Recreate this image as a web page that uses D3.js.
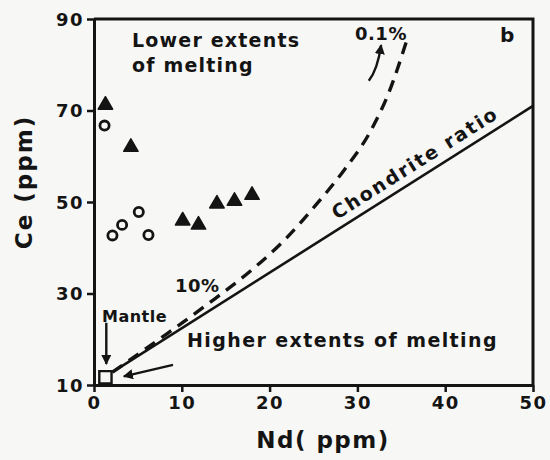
<!DOCTYPE html>
<html>
<head>
<meta charset="utf-8">
<script src="https://cdn.jsdelivr.net/npm/d3@7"></script>
<style>
  html, body { margin: 0; padding: 0; background: #f7f7f5; }
  svg { display: block; }
  text { font-family: "DejaVu Sans", sans-serif; font-weight: bold; fill: #141414; }
</style>
</head>
<body>
<div id="chart"></div>
<script>
// ---------- data ----------
const xTicks = [0, 10, 20, 30, 40, 50];
const yTicks = [10, 30, 50, 70, 90];

// Filled triangles (Nd, Ce)
const triNd = [1.3, 4.2, 10.1, 11.9, 14.0, 16.0, 18.0];
const triCe = [71.2, 62.0, 45.9, 45.0, 49.6, 50.2, 51.5];

// Open circles (Nd, Ce)
const circNd = [1.2, 5.1, 3.2, 2.1, 6.2];
const circCe = [66.7, 47.8, 45.0, 42.7, 42.8];

// Mantle source (open square)
const mantleNd = [1.3];
const mantleCe = [11.7];

// Chondrite ratio line
const chondNd = [2.1, 50];
const chondCe = [12.8, 71.0];

// Melting curve (10% -> 0.1%)
const meltNd = [2.1, 8.3, 13.8, 18.0, 21.5, 25.2, 28.5, 31.5, 33.6, 35.7];
const meltCe = [12.8, 21.2, 28.9, 35.2, 41.3, 49.2, 57.0, 65.5, 74.0, 85.8];

// ---------- layout ----------
const W = 550, H = 460;
const x = d3.scaleLinear().domain([0, 50]).range([94, 533]);
const y = d3.scaleLinear().domain([10, 90]).range([385, 19]);
const ink = "#141414";

const svg = d3.select("#chart").append("svg")
  .attr("width", W).attr("height", H);

svg.append("rect").attr("width", W).attr("height", H).attr("fill", "#f7f7f5");

svg.append("defs").append("marker")
  .attr("id", "ah").attr("viewBox", "0 0 10 10")
  .attr("refX", 9).attr("refY", 5)
  .attr("markerWidth", 4.2).attr("markerHeight", 4.2)
  .attr("markerUnits", "strokeWidth")
  .attr("orient", "auto")
  .append("path").attr("d", "M0,0 L10,5 L0,10 Z").attr("fill", ink);

// frame (top and right)
svg.append("path")
  .attr("d", `M${x(0)},${y(90)} H${x(50)} V${y(10)}`)
  .attr("fill", "none").attr("stroke", ink).attr("stroke-width", 3);

// axes
const gx = svg.append("g").attr("transform", `translate(0,${y(10)})`)
  .call(d3.axisBottom(x).tickValues(xTicks).tickSize(7).tickSizeOuter(0).tickPadding(4));
const gy = svg.append("g").attr("transform", `translate(${x(0)},0)`)
  .call(d3.axisLeft(y).tickValues(yTicks).tickSize(7).tickSizeOuter(0).tickPadding(3));
[gx, gy].forEach(g => {
  g.select(".domain").attr("stroke", ink).attr("stroke-width", 3);
  g.selectAll(".tick line").attr("stroke", ink).attr("stroke-width", 2.5);
  g.selectAll(".tick text")
    .style("font-family", '"DejaVu Sans", sans-serif')
    .style("font-weight", "bold")
    .style("font-size", "18px")
    .style("letter-spacing", "1.5px")
    .attr("fill", ink);
});
gy.selectAll(".tick text").attr("dy", "0.36em");
gx.selectAll(".tick text").attr("dy", "0.72em");

// chondrite line
const line = d3.line().x(d => x(d[0])).y(d => y(d[1]));
svg.append("path")
  .datum(chondNd.map((v, i) => [v, chondCe[i]]))
  .attr("d", line).attr("fill", "none")
  .attr("stroke", ink).attr("stroke-width", 2.6);

// melting curve (dashed)
svg.append("path")
  .datum(meltNd.map((v, i) => [v, meltCe[i]]))
  .attr("d", d3.line().x(d => x(d[0])).y(d => y(d[1])).curve(d3.curveMonotoneX))
  .attr("fill", "none").attr("stroke", ink)
  .attr("stroke-width", 3.4).attr("stroke-dasharray", "12,8");

// points
svg.append("g").selectAll("path")
  .data(triNd.map((v, i) => [v, triCe[i]]))
  .join("path")
  .attr("transform", d => `translate(${x(d[0])},${y(d[1])})`)
  .attr("d", d3.symbol(d3.symbolTriangle, 90))
  .attr("fill", ink).attr("stroke", ink).attr("stroke-width", 1.5)
  .attr("stroke-linejoin", "round");

svg.append("g").selectAll("circle")
  .data(circNd.map((v, i) => [v, circCe[i]]))
  .join("circle")
  .attr("cx", d => x(d[0])).attr("cy", d => y(d[1]))
  .attr("r", 4.6).attr("fill", "none")
  .attr("stroke", ink).attr("stroke-width", 2.8);

svg.append("g").selectAll("path")
  .data(mantleNd.map((v, i) => [v, mantleCe[i]]))
  .join("path")
  .attr("transform", d => `translate(${x(d[0])},${y(d[1])})`)
  .attr("d", d3.symbol(d3.symbolSquare, 150))
  .attr("fill", "none").attr("stroke", ink).attr("stroke-width", 2.4);

// arrows
const arrow = (d) => svg.append("path").attr("d", d)
  .attr("fill", "none").attr("stroke", ink).attr("stroke-width", 2.4)
  .attr("marker-end", "url(#ah)");
arrow(`M${x(1.4)},${y(23.6)} L${x(1.4)},${y(14.6)}`);
arrow(`M${x(9.0)},${y(14.4)} L${x(3.4)},${y(11.9)}`);
arrow(`M${x(31.3)},${y(76.5)} Q${x(32.3)},${y(79)} ${x(32.7)},${y(84.3)}`);

// labels
const label = (t, px, py, size, ls, anchor, rot) => {
  const el = svg.append("text").text(t)
    .attr("x", px).attr("y", py)
    .style("font-size", size + "px")
    .style("letter-spacing", ls + "px")
    .attr("text-anchor", anchor || "start");
  if (rot) el.attr("transform", `rotate(${rot},${px},${py})`);
  return el;
};
label("Lower extents", 132, 47, 19, 1.2);
label("of melting", 132, 72, 19, 1.2);
label("0.1%", 355, 40, 18, 0.5);
label("b", 500, 42, 20, 0);
label("Chondrite ratio", 337, 220, 19, 2, "start", -32.3);
label("10%", 175, 292, 18, 0.5);
label("Mantle", 102, 322, 16, 0.5);
label("Higher extents of melting", 187, 347, 19, 1.4);
label("Nd( ppm)", 323, 448, 23, 1.5, "middle");
label("Ce (ppm)", 32, 182, 23, 2, "middle", -90);
</script>
</body>
</html>
